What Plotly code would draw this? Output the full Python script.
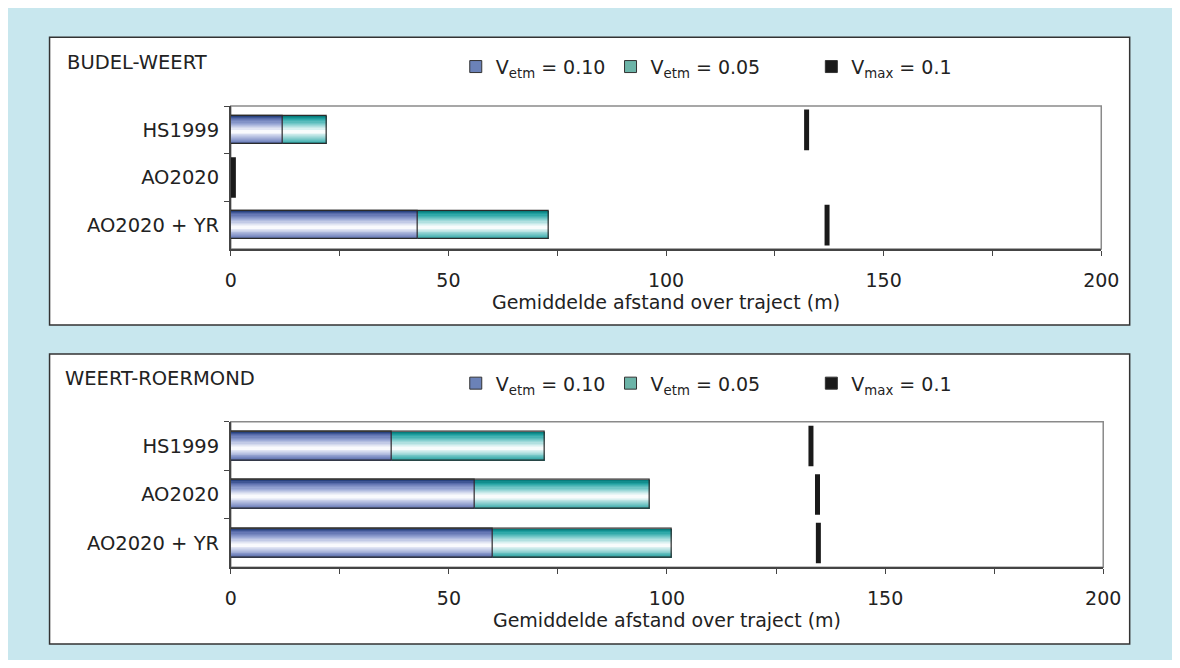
import plotly.graph_objects as go

# ---------------- data ----------------
categories = ["HS1999", "AO2020", "AO2020 + YR"]
panel_titles = ["BUDEL-WEERT", "WEERT-ROERMOND"]
v010_budel = [12, 0, 43]
v005_budel = [22, 0, 73]
vmax_budel = [132.3, 0.6, 137.0]
v010_weert = [37, 56, 60]
v005_weert = [72, 96, 101]
vmax_weert = [133.0, 134.5, 134.7]
legend_labels = ["V<sub>etm</sub> = 0.10", "V<sub>etm</sub> = 0.05", "V<sub>max</sub> = 0.1"]
x_tickvals = [0, 50, 100, 150, 200]
x_title = "Gemiddelde afstand over traject (m)"

# ---------------- style ----------------
W, H = 1172, 652
FONT = "DejaVu Sans"
TXT = "#222222"
BG = "#c8e7ee"
# gradient stops: d = 0 at highlight, d = 1 at bar edge (top / bottom half)
BLUE_TOP = [(0.0, "#ffffff"), (0.2, "#dfe3f2"), (0.5, "#98a6d4"), (0.8, "#5d70af"), (1.0, "#1c3874")]
BLUE_BOT = [(0.0, "#ffffff"), (0.3, "#cbd2eb"), (0.7, "#8292c7"), (1.0, "#475c9d")]
TEAL_TOP = [(0.0, "#ffffff"), (0.2, "#d5efef"), (0.5, "#7bcbcb"), (0.8, "#22a2a2"), (1.0, "#007575")]
TEAL_BOT = [(0.0, "#ffffff"), (0.3, "#c0e6e6"), (0.7, "#5dbcbc"), (1.0, "#179595")]
LEG_COLORS = ["#6b82b8", "#6cb4a8", "#1a1a1a"]
BAR_W = 0.6
HIGHLIGHT = 0.57     # relative position of the white highlight (0 = top edge)
NLAYERS = 14


def hex2rgb(h):
    h = h.lstrip("#")
    return tuple(int(h[i:i + 2], 16) for i in (0, 2, 4))


def grad(stops, d):
    for (d0, c0), (d1, c1) in zip(stops[:-1], stops[1:]):
        if d0 <= d <= d1:
            t = (d - d0) / (d1 - d0)
            a, b = hex2rgb(c0), hex2rgb(c1)
            return "rgb(%d,%d,%d)" % tuple(round(a[k] + (b[k] - a[k]) * t) for k in range(3))
    return stops[-1][1]


fig = go.Figure()


def add_gradient_bars(values, top_stops, bot_stops, xa, ya):
    half = BAR_W / 2
    for i in range(NLAYERS):
        d = 1 - (i + 0.5) / NLAYERS
        shrink = 1 - i / NLAYERS
        # upper part (screen top, smaller category position because axis is reversed)
        fig.add_trace(go.Bar(
            x=values, y=categories, orientation="h",
            offset=-half + BAR_W * HIGHLIGHT * (1 - shrink),
            width=BAR_W * HIGHLIGHT * shrink,
            marker=dict(color=grad(top_stops, d), line=dict(width=0)),
            xaxis=xa, yaxis=ya, showlegend=False, hoverinfo="skip"))
        # lower part
        fig.add_trace(go.Bar(
            x=values, y=categories, orientation="h",
            offset=-half + BAR_W * HIGHLIGHT,
            width=BAR_W * (1 - HIGHLIGHT) * shrink,
            marker=dict(color=grad(bot_stops, d), line=dict(width=0)),
            xaxis=xa, yaxis=ya, showlegend=False, hoverinfo="skip"))
    fig.add_trace(go.Bar(
        x=values, y=categories, orientation="h", width=BAR_W,
        marker=dict(color="rgba(0,0,0,0)", line=dict(color="#2b2b2b", width=1.2)),
        xaxis=xa, yaxis=ya, showlegend=False, hoverinfo="skip"))


panels = [
    (v010_budel, v005_budel, vmax_budel, "x", "y"),
    (v010_weert, v005_weert, vmax_weert, "x2", "y2"),
]

for v010, v005, vmax, xa, ya in panels:
    add_gradient_bars(v005, TEAL_TOP, TEAL_BOT, xa, ya)
    add_gradient_bars(v010, BLUE_TOP, BLUE_BOT, xa, ya)
    fig.add_trace(go.Scatter(
        x=vmax, y=categories, mode="markers", xaxis=xa, yaxis=ya,
        marker=dict(symbol="line-ns", size=29, line=dict(color="#1a1a1a", width=5)),
        showlegend=False, hoverinfo="skip"))

# legend entries (one legend box per entry, per panel)
leg_x_px = [451, 609, 814]          # left edge of each legend box (px)
leg_y_px = [58.7, 375.3]            # vertical centre of legend row (px)
k = 0
for p, (xa, ya) in enumerate([("x", "y"), ("x2", "y2")]):
    for j, lab in enumerate(legend_labels):
        k += 1
        name = "legend" if k == 1 else "legend%d" % k
        fig.add_trace(go.Scatter(
            x=[None], y=[None], mode="markers", name=lab, xaxis=xa, yaxis=ya,
            marker=dict(symbol="square", size=12, color=LEG_COLORS[j],
                        line=dict(color="#333333", width=1)),
            legend=name, showlegend=True, hoverinfo="skip"))
        fig.update_layout({name: dict(
            x=leg_x_px[j] / W, y=1 - leg_y_px[p] / H, xanchor="left", yanchor="middle",
            bgcolor="rgba(0,0,0,0)", borderwidth=0,
            font=dict(family=FONT, size=19, color=TXT))})

# panel geometry (px, relative to figure origin)
panel_boxes = [(36.3, 29.3, 1139, 317), (36.3, 346, 1139, 636)]
plot_x = [(221.3, 1110), (221.3, 1112)]
plot_y = [(98, 241), (413.7, 559.3)]
title_pos = [(52, 55), (49.6, 370.3)]

shapes = []
annotations = []
for p in range(2):
    x0, y0, x1, y1 = panel_boxes[p]
    shapes.append(dict(type="rect", xref="paper", yref="paper",
                       x0=x0 / W, x1=x1 / W, y0=1 - y1 / H, y1=1 - y0 / H,
                       fillcolor="white", line=dict(color="#333333", width=1.5), layer="below"))
    xr = "x domain" if p == 0 else "x2 domain"
    yr = "y domain" if p == 0 else "y2 domain"
    shapes.append(dict(type="rect", xref=xr, yref=yr, x0=0, x1=1, y0=0, y1=1,
                       line=dict(color="#8a8a8a", width=1.5), layer="below"))
    annotations.append(dict(text=panel_titles[p], xref="paper", yref="paper",
                            x=title_pos[p][0] / W, y=1 - title_pos[p][1] / H,
                            xanchor="left", yanchor="middle", showarrow=False,
                            font=dict(family=FONT, size=19.5, color=TXT)))

axis_common_x = dict(
    range=[0, 200], tickvals=x_tickvals, ticks="outside", ticklen=5, tickwidth=1.2,
    tickcolor="#444444", showline=True, linecolor="#444444", linewidth=2,
    showgrid=False, zeroline=False, ticklabelstandoff=8,
    minor=dict(dtick=25, tick0=0, ticks="outside", ticklen=5, tickwidth=1.2, tickcolor="#444444"),
    tickfont=dict(family=FONT, size=19, color=TXT),
    title=dict(text=x_title, font=dict(family=FONT, size=19, color=TXT), standoff=2),
    fixedrange=True)
axis_common_y = dict(
    type="category", categoryorder="array", categoryarray=categories,
    range=[2.5, -0.5], ticks="outside", ticklen=5, tickwidth=1.2, tickcolor="#444444",
    tickson="boundaries", showline=True, linecolor="#444444", linewidth=1.5,
    showgrid=False, zeroline=False, ticklabelstandoff=6,
    tickfont=dict(family=FONT, size=19.5, color=TXT), fixedrange=True)

fig.update_layout(
    width=W, height=H, margin=dict(l=0, r=0, t=0, b=0),
    paper_bgcolor=BG, plot_bgcolor="rgba(0,0,0,0)",
    barmode="overlay", bargap=0,
    font=dict(family=FONT, size=19, color=TXT),
    xaxis=dict(domain=[plot_x[0][0] / W, plot_x[0][1] / W], anchor="y", **axis_common_x),
    yaxis=dict(domain=[1 - plot_y[0][1] / H, 1 - plot_y[0][0] / H], anchor="x", **axis_common_y),
    xaxis2=dict(domain=[plot_x[1][0] / W, plot_x[1][1] / W], anchor="y2", **axis_common_x),
    yaxis2=dict(domain=[1 - plot_y[1][1] / H, 1 - plot_y[1][0] / H], anchor="x2", **axis_common_y),
    shapes=shapes, annotations=annotations,
)

fig.write_html("out.html")
